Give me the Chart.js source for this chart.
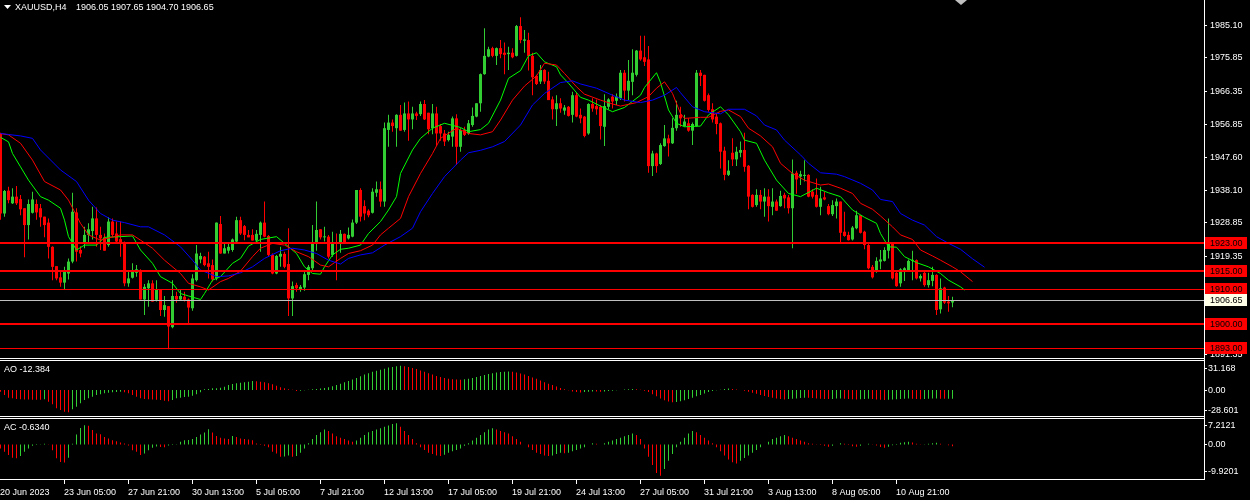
<!DOCTYPE html>
<html>
<head>
<meta charset="utf-8">
<script src="https://cdn.jsdelivr.net/npm/chart.js@4.4.0/dist/chart.umd.min.js"></script>
<style>
html, body { margin: 0; padding: 0; background: #000; overflow: hidden; }
#wrap { position: relative; width: 1250px; height: 500px; background: #000; }
canvas { position: absolute; left: 0; }
</style>
</head>
<body>
<div id="wrap">
<canvas id="main" style="top:0px;width:1250px;height:361px" width="1250" height="361"></canvas>
<canvas id="ao" style="top:361px;width:1250px;height:58px" width="1250" height="58"></canvas>
<canvas id="ac" style="top:419px;width:1250px;height:81px" width="1250" height="81"></canvas>
</div>
<script>
// ---- data ----
const symbol = "XAUUSD,H4";
const ohlcText = "1906.05 1907.65 1904.70 1906.65";

const open = [1954.2,1931.4,1937.9,1934.3,1936.2,1935.5,1932.9,1928.1,1931.6,1934.1,
1932.9,1930.5,1928.8,1921.9,1916.4,1913.2,1911.7,1914.3,1917.7,1931.7,
1921.0,1923.1,1925.3,1926.4,1930.0,1925.3,1924.6,1922.4,1929.1,1925.7,
1924.1,1922.9,1911.5,1913.1,1914.5,1915.1,1906.9,1910.1,1911.5,1906.8,
1909.6,1903.9,1905.0,1899.0,1907.9,1906.9,1907.7,1906.9,1904.4,1912.4,
1918.3,1919.1,1917.2,1916.7,1912.9,1928.4,1920.0,1920.8,1921.0,1923.4,
1929.5,1927.8,1925.3,1925.3,1923.7,1925.3,1928.8,1925.0,1919.6,1914.3,
1919.1,1919.9,1917.0,1907.2,1911.0,1909.6,1910.3,1913.9,1915.8,1922.7,
1926.9,1924.6,1924.8,1919.6,1923.1,1922.9,1925.6,1924.3,1924.8,1928.8,
1938.1,1933.5,1932.2,1931.6,1937.3,1938.3,1934.8,1955.2,1957.3,1955.7,
1959.5,1955.2,1959.9,1958.2,1959.9,1959.7,1962.6,1960.1,1955.7,1959.9,
1956.3,1954.2,1952.3,1953.3,1958.5,1950.4,1955.2,1954.2,1956.6,1959.0,
1962.8,1971.1,1976.1,1978.5,1976.3,1978.5,1977.2,1976.8,1977.2,1976.3,
1984.8,1980.6,1980.8,1976.3,1970.6,1969.0,1972.3,1969.2,1963.9,1961.1,
1962.8,1960.7,1961.8,1959.5,1965.1,1959.5,1959.0,1954.2,1962.6,1962.0,
1961.8,1956.1,1961.8,1964.7,1963.5,1964.2,1971.5,1966.4,1968.9,1970.9,
1977.8,1975.9,1975.3,1944.9,1948.5,1945.5,1950.6,1952.8,1951.4,1955.7,
1959.5,1956.3,1957.1,1955.0,1956.3,1971.5,1970.9,1965.1,1961.1,1959.0,
1957.1,1949.3,1942.4,1948.7,1946.8,1948.7,1949.5,1945.0,1936.7,1933.8,
1936.7,1934.8,1936.2,1933.3,1934.8,1933.5,1936.7,1936.0,1932.9,1943.0,
1941.9,1942.1,1942.4,1937.6,1936.7,1933.3,1936.0,1933.5,1931.2,1933.5,
1934.8,1926.2,1925.3,1924.0,1927.2,1930.9,1926.2,1922.4,1916.2,1914.8,
1917.7,1917.9,1920.8,1922.7,1914.5,1911.5,1915.3,1915.1,1917.9,1918.1,
1912.9,1914.5,1911.0,1912.2,1913.9,1904.1,1910.3,1906.3,1906.05];

const high = [1954.4,1938.1,1939.0,1938.6,1939.2,1936.7,1932.9,1935.4,1937.6,1935.4,
1934.1,1930.5,1930.0,1922.1,1916.4,1914.8,1916.2,1918.6,1937.3,1932.9,
1922.1,1927.6,1928.6,1933.3,1933.1,1927.6,1925.7,1930.3,1930.0,1929.1,
1929.1,1923.4,1915.3,1917.2,1916.7,1915.5,1911.3,1912.4,1912.4,1912.4,
1909.8,1907.9,1905.0,1912.4,1909.1,1909.6,1909.1,1907.2,1914.1,1922.4,
1920.2,1919.3,1920.5,1918.3,1928.8,1930.7,1922.9,1923.1,1924.3,1930.5,
1930.5,1928.1,1926.7,1926.9,1926.7,1929.1,1934.8,1925.3,1920.0,1919.6,
1921.9,1920.5,1927.2,1912.0,1911.7,1911.0,1914.8,1916.7,1928.1,1934.8,
1926.9,1927.6,1925.3,1926.2,1925.7,1926.7,1925.7,1927.4,1929.7,1938.1,
1938.6,1935.2,1932.6,1938.6,1940.5,1940.5,1957.3,1959.5,1958.2,1959.7,
1962.3,1963.0,1963.3,1961.8,1960.4,1963.3,1963.7,1960.1,1962.6,1961.8,
1956.9,1955.2,1954.7,1959.0,1959.7,1955.7,1956.1,1958.0,1961.6,1962.8,
1971.3,1984.2,1978.9,1978.9,1978.7,1980.8,1980.1,1978.9,1978.5,1985.1,
1987.3,1983.7,1982.9,1977.2,1970.9,1973.7,1972.5,1971.8,1964.7,1965.1,
1964.2,1962.3,1962.0,1966.1,1965.8,1961.3,1959.2,1962.8,1964.2,1963.9,
1962.3,1965.4,1964.2,1965.4,1965.6,1972.3,1972.3,1975.1,1978.2,1978.0,
1982.0,1982.0,1979.1,1949.3,1948.7,1951.4,1956.6,1953.8,1958.5,1963.5,
1961.8,1959.5,1958.5,1957.3,1972.3,1972.3,1970.9,1965.6,1962.8,1959.9,
1957.3,1950.4,1946.6,1952.8,1950.4,1951.9,1954.4,1945.2,1936.9,1938.3,
1938.1,1938.6,1938.3,1938.6,1935.4,1937.9,1937.3,1936.7,1946.8,1943.6,
1943.6,1946.6,1942.6,1938.3,1941.4,1939.0,1937.6,1934.1,1935.2,1935.7,
1934.8,1931.9,1926.2,1927.8,1932.2,1930.9,1926.5,1922.7,1916.7,1918.9,
1921.0,1921.8,1930.0,1922.7,1914.8,1915.8,1916.1,1918.3,1920.8,1918.3,
1914.1,1915.1,1914.5,1916.2,1914.1,1912.9,1910.5,1907.9,1907.65];

const low = [1929.6,1930.5,1934.3,1934.1,1933.8,1930.9,1918.9,1924.0,1931.4,1929.6,
1927.6,1924.6,1918.6,1912.4,1912.4,1910.5,1909.8,1912.6,1917.2,1917.7,
1918.9,1921.5,1923.1,1924.0,1921.9,1921.0,1920.8,1921.9,1924.6,1923.1,
1919.1,1910.7,1910.5,1912.9,1913.4,1906.9,1902.5,1904.8,1906.3,1906.3,
1902.2,1902.0,1892.7,1898.7,1906.0,1906.6,1906.3,1899.9,1903.7,1912.0,
1917.2,1916.4,1912.9,1912.0,1912.4,1919.9,1920.0,1920.0,1920.5,1923.1,
1925.3,1923.8,1924.6,1923.7,1923.1,1920.5,1924.6,1919.1,1914.1,1914.1,
1916.2,1915.8,1902.2,1902.2,1909.1,1909.1,1909.4,1912.4,1915.3,1920.8,
1924.0,1923.4,1918.6,1919.1,1912.4,1920.2,1922.9,1924.0,1924.6,1928.4,
1929.1,1929.5,1930.3,1931.4,1936.2,1933.3,1933.3,1950.4,1954.7,1950.4,
1955.0,1954.7,1952.1,1955.4,1958.0,1959.2,1958.0,1954.0,1954.0,1950.6,
1952.1,1950.6,1951.9,1950.4,1945.2,1949.0,1953.5,1953.8,1956.1,1958.8,
1960.4,1970.9,1975.9,1975.9,1973.7,1975.6,1971.1,1972.3,1975.6,1976.1,
1979.9,1977.2,1972.1,1965.1,1968.0,1968.3,1968.3,1963.7,1958.2,1956.3,
1960.1,1959.5,1959.0,1957.3,1958.8,1957.1,1953.1,1953.8,1960.4,1959.5,
1952.5,1950.6,1961.1,1961.3,1962.3,1963.7,1963.3,1963.7,1965.1,1970.4,
1974.9,1973.4,1943.0,1942.1,1943.0,1945.2,1950.4,1947.6,1951.2,1955.0,
1956.1,1956.1,1954.7,1950.9,1956.1,1967.7,1963.3,1960.4,1957.3,1954.0,
1944.2,1940.9,1942.1,1944.9,1944.9,1947.4,1943.3,1932.6,1933.1,1933.3,
1932.6,1930.5,1929.1,1930.9,1932.2,1933.3,1932.9,1931.4,1921.5,1937.0,
1939.5,1940.5,1936.0,1935.7,1933.1,1930.9,1935.2,1930.9,1930.7,1930.0,
1922.7,1924.8,1923.7,1923.7,1926.9,1925.7,1921.2,1915.5,1912.9,1914.5,
1915.5,1917.7,1918.6,1912.6,1910.5,1910.5,1912.2,1914.8,1912.4,1912.6,
1912.0,1910.5,1910.3,1910.7,1902.5,1902.9,1905.6,1903.4,1904.70];

const close = [1931.4,1937.8,1935.2,1936.2,1934.3,1932.6,1928.1,1934.1,1935.4,1931.7,
1930.3,1928.1,1921.9,1916.2,1912.9,1911.7,1914.8,1917.7,1931.9,1920.5,
1920.0,1925.3,1926.9,1930.0,1925.3,1924.3,1920.8,1929.1,1925.3,1923.4,
1922.9,1911.5,1912.9,1914.8,1915.5,1906.9,1910.5,1911.5,1906.3,1909.6,
1903.9,1905.3,1899.2,1907.9,1906.9,1907.9,1906.8,1904.6,1912.9,1920.0,
1919.3,1916.7,1916.2,1912.6,1928.8,1920.0,1921.5,1921.9,1924.0,1929.5,
1925.7,1925.3,1924.6,1923.7,1925.6,1928.8,1924.8,1919.6,1914.3,1919.3,
1919.9,1916.2,1907.2,1910.7,1910.1,1910.5,1914.1,1916.2,1923.1,1926.7,
1924.6,1924.8,1919.1,1922.9,1922.7,1925.6,1923.1,1925.3,1928.8,1938.1,
1930.5,1931.4,1930.9,1937.6,1938.3,1934.8,1955.7,1957.3,1956.3,1959.5,
1955.0,1959.9,1958.2,1959.9,1959.2,1962.6,1958.2,1955.4,1959.9,1954.2,
1954.2,1951.9,1953.8,1958.5,1950.4,1955.2,1953.8,1957.1,1959.2,1962.8,
1971.1,1976.3,1978.2,1976.3,1978.5,1976.8,1976.6,1977.2,1975.9,1984.8,
1980.8,1981.0,1976.3,1970.2,1968.3,1972.3,1969.0,1963.7,1961.1,1962.8,
1961.3,1961.6,1959.2,1965.1,1959.0,1958.5,1953.5,1962.6,1961.3,1961.1,
1956.3,1962.0,1963.9,1963.3,1964.7,1971.5,1966.4,1969.2,1971.5,1977.8,
1975.3,1974.6,1944.9,1948.5,1944.9,1950.9,1952.8,1951.4,1955.8,1959.5,
1958.5,1957.6,1955.0,1956.9,1971.5,1970.6,1963.5,1960.9,1958.2,1956.9,
1949.0,1942.4,1943.6,1946.8,1949.0,1949.5,1944.7,1936.2,1933.3,1936.7,
1934.8,1936.2,1933.5,1934.8,1932.2,1936.4,1935.7,1932.9,1942.8,1941.1,
1942.6,1942.4,1936.2,1936.2,1933.3,1935.7,1935.4,1931.2,1933.8,1934.8,
1925.9,1925.0,1923.8,1927.4,1930.9,1925.9,1922.4,1915.8,1913.2,1917.9,
1918.3,1921.0,1922.7,1912.9,1910.7,1915.5,1915.8,1917.9,1918.1,1912.9,
1913.6,1911.0,1912.4,1913.9,1903.9,1910.1,1906.0,1905.8,1906.65];

// Alligator lines as [bar index, price]
const jaw = [[0,1954.2],[2,1953.9],[5,1953.5],[8,1952.8],[10,1949.5],[15,1943.8],[19,1940.5],[22,1935.2],[25,1931.4],[28,1929.5],
[31,1928.8],[35,1927.6],[37,1927.6],[41,1925.3],[45,1921.9],[48,1918.1],[50,1915.3],[54,1913.4],[57,1913.6],[60,1914.5],
[63,1916.2],[66,1918.6],[70,1920.8],[73,1921.5],[76,1921.0],[79,1920.0],[82,1918.1],[85,1917.0],[87,1918.6],[90,1919.6],
[93,1920.2],[96,1922.4],[100,1924.8],[103,1927.2],[105,1931.9],[108,1937.1],[111,1941.9],[115,1946.6],[117,1948.7],[120,1949.4],
[123,1950.4],[126,1951.9],[130,1956.6],[133,1962.3],[136,1965.6],[140,1968.7],[143,1969.2],[145,1968.3],[149,1967.1],[153,1965.1],
[156,1963.7],[160,1963.0],[163,1963.7],[166,1965.1],[169,1967.3],[170,1965.8],[173,1961.8],[176,1960.4],[180,1959.8],[182,1961.1],
[186,1961.1],[189,1959.2],[191,1956.6],[194,1955.2],[196,1952.3],[200,1948.1],[202,1945.7],[205,1943.0],[209,1942.6],[211,1941.9],
[215,1940.0],[218,1938.1],[220,1935.4],[223,1934.8],[225,1931.4],[228,1929.5],[231,1928.1],[234,1924.8],[237,1922.9],[240,1921.2],
[243,1918.5],[246,1916.1]];

const teeth = [[0,1954.2],[2,1953.8],[5,1951.4],[8,1946.6],[11,1940.5],[15,1938.1],[17,1935.2],[20,1928.6],[22,1925.3],[25,1923.8],
[30,1925.3],[33,1925.3],[35,1923.8],[38,1921.5],[41,1918.1],[45,1914.3],[47,1911.5],[50,1910.5],[52,1909.6],[55,1912.0],
[57,1912.9],[60,1915.0],[63,1919.1],[65,1921.5],[68,1922.9],[71,1922.4],[74,1920.5],[77,1919.1],[80,1916.7],[82,1916.2],
[85,1918.6],[87,1920.0],[90,1920.8],[93,1922.4],[95,1925.3],[97,1927.2],[100,1930.0],[102,1936.2],[105,1942.8],[108,1948.5],
[110,1952.8],[114,1955.7],[117,1954.2],[120,1953.8],[123,1954.7],[125,1958.0],[128,1963.7],[131,1967.7],[134,1970.6],[136,1974.2],
[139,1973.7],[141,1971.3],[144,1967.5],[146,1965.4],[150,1963.7],[153,1962.6],[155,1962.0],[159,1963.0],[162,1964.7],[164,1967.1],
[166,1968.9],[168,1965.6],[170,1959.9],[171,1958.5],[175,1958.8],[177,1958.8],[180,1960.5],[182,1960.9],[185,1959.0],[187,1955.7],
[190,1953.5],[193,1950.4],[195,1945.7],[198,1942.8],[201,1940.9],[205,1939.5],[207,1939.8],[210,1938.6],[213,1937.1],[215,1934.3],
[218,1932.6],[220,1930.7],[223,1927.6],[225,1925.3],[228,1924.0],[230,1921.0],[233,1919.3],[235,1918.1],[238,1916.2],[240,1914.8],
[243,1912.0]];

const lips = [[0,1953.1],[2,1951.8],[3,1948.5],[5,1944.7],[7,1940.9],[10,1936.2],[12,1935.2],[15,1932.9],[16,1929.5],[17,1924.8],
[19,1921.0],[21,1922.4],[24,1922.4],[26,1924.6],[30,1924.8],[33,1925.0],[35,1921.0],[38,1917.2],[40,1913.4],[43,1911.5],
[45,1908.6],[47,1907.9],[50,1906.9],[51,1908.6],[53,1912.4],[55,1913.4],[58,1917.2],[60,1918.6],[62,1922.1],[65,1924.0],
[69,1924.8],[71,1922.9],[74,1920.0],[76,1916.2],[78,1914.3],[80,1914.1],[81,1916.2],[83,1919.6],[85,1921.2],[87,1921.5],
[90,1922.4],[92,1925.7],[95,1929.1],[97,1932.4],[99,1936.2],[100,1942.8],[103,1949.5],[105,1952.8],[108,1955.7],[111,1957.1],
[115,1955.9],[117,1954.7],[120,1955.3],[122,1957.1],[125,1963.7],[127,1969.9],[130,1972.1],[132,1976.3],[134,1977.2],[136,1974.6],
[139,1973.2],[140,1970.9],[142,1968.5],[145,1964.5],[147,1963.7],[150,1962.0],[153,1960.4],[156,1961.6],[160,1965.1],[161,1967.3],
[164,1971.5],[165,1968.7],[167,1960.9],[169,1957.1],[171,1956.1],[175,1956.3],[177,1959.5],[180,1961.8],[182,1959.5],[185,1954.7],
[186,1952.3],[189,1951.4],[191,1946.6],[194,1940.9],[197,1937.1],[200,1936.2],[204,1938.6],[207,1937.3],[210,1936.2],[213,1932.4],
[216,1930.3],[219,1928.6],[220,1925.7],[222,1921.9],[224,1921.8],[226,1919.1],[229,1917.4],[232,1916.2],[235,1914.3],[237,1912.4],
[240,1910.5],[241,1909.6]];

const ao = [-2.4,-7.1,-10.9,-11.9,-12.9,-13.3,-13.4,-13.6,-13.8,-14.0,
-14.1,-13.3,-16.7,-20.5,-26.2,-28.6,-30.9,-31.9,-27.6,-23.8,
-19.0,-14.3,-11.9,-9.5,-7.1,-6.2,-4.8,-3.8,-3.3,-2.9,
-2.4,-3.3,-4.8,-7.1,-9.5,-11.9,-12.9,-13.3,-13.6,-13.8,
-14.3,-15.2,-15.9,-14.3,-11.9,-10.9,-10.0,-9.5,-8.1,-6.2,
-3.3,1.0,1.4,2.4,2.6,3.3,4.8,7.1,8.6,9.5,
10.5,10.9,11.9,12.9,12.6,11.9,10.9,9.5,8.1,6.2,
3.8,2.4,1.0,0.5,-1.4,
-1.0,-0.5,0.3,1.0,1.5,2.2,3.0,4.0,5.5,7.0,9.0,
11,13,15,17,19.5,22,24,26,27.5,29,30.5,32,33,34,34.5,
34,33,31.5,30,28,26,24,22,20,18.5,17,16,
15.5,15,14.7,15.2,16,
17,18.5,20,21.5,23,24,25,25.8,
26.2,26.5,26,25,23.5,22,
20,18,16,13.5,11,9,7,5,3,1,-0.5,-2,-3,-3.5,
-3,-2.5,-2,-2.3,-2.6,-2.2,-1.5,-1,-0.5,0,0.6,1.2,1.5,1.2,0.5,
-1,-3,-6,-9,-12,-14.5,-16.5,-17.5,-17,-16,-14.5,-13,-11,-9,-7,
-5,-3,-1.5,-0.5,0.5,1.5,2,1.5,0.8,0,-1,-2.5,-4,-5.5,-7,
-8.5,-10,-11,-12,-13,-13.5,-13,-12.5,-12,-11.5,-11,-11.2,-11.6,-12,-12.5,
-12.8,-13,-12.7,-12.3,-12,-12.4,-12.9,-13.3,-13.5,-13.2,-12.8,-12.5,-12.9,-13.4,-14,-14.3,-14,
-13.6,-13.2,-12.8,-12.5,-12.2,-12.4,-12.8,-13.1,-12.9,-12.6,-12.3,-12.1,-12.4,-12.6,-12.5,-12.384];

const ac = [-1.5,-2.7,-3.9,-4.9,-5.1,-4.2,-2.7,-1.5,-0.5,-0.2,
0.1,0.25,-0.1,-2.1,-5.1,-6.4,-6.6,-4.9,0.3,3.7,
6.1,7.1,6.9,5.3,4.0,3.8,2.8,2.2,1.6,1.2,
0.7,0.4,-0.4,-2.1,-2.7,-3.9,-3.3,-2.1,-1.2,-0.7,
-0.9,-1.0,-0.4,-0.2,0.1,1.0,1.6,1.7,2.0,2.8,
3.7,4.4,5.6,4.4,3.1,2.5,2.2,2.0,3.1,2.8,
2.2,2.0,1.8,1.6,0.4,-0.2,-0.5,-1.0,-2.7,-3.3,
-4.5,-4.4,-4.0,-4.5,-4.2,
-3.0,-1.5,0.5,2.0,3.5,4.5,5.5,5.0,4.0,3.0,2.5,
2.0,1.5,1.0,1.5,2.5,3.5,4.5,5.0,5.5,6.0,6.5,7.0,7.5,7.8,6.5,
5.0,3.5,2.0,0.5,-1.0,-2.0,-3.0,-3.5,-4.0,-4.2,-3.8,-3.0,
-2.5,-2.0,-1.5,-0.5,0.5,
1.5,2.5,3.5,4.5,5.5,6.0,5.5,5.0,
4.5,4.0,3.0,2.0,1.0,0.0,
-1.0,-2.0,-3.0,-3.5,-4.0,-4.2,-4.0,-3.5,-3.0,-3.2,-3.0,-2.5,-2.0,-1.5,
-1.0,0.0,0.5,0.3,0.0,0.5,1.0,1.5,2.0,2.5,3.0,3.5,4.0,3.5,2.0,
-1.5,-4.5,-7.5,-10.5,-11.5,-9.0,-6.0,-3.5,-1.0,1.0,2.5,4.0,5.0,4.5,3.5,
2.5,1.5,0.5,-1.0,-2.5,-4.0,-5.5,-6.5,-7.0,-6.0,-5.0,-4.0,-3.0,-2.0,-1.0,
0.0,1.0,2.0,2.5,3.0,3.5,3.0,2.5,2.0,1.5,1.0,0.5,0.3,0.1,-0.2,
-0.5,-0.8,-0.5,0.0,0.5,0.3,-0.2,-0.6,-0.8,-0.5,0.0,0.3,0.1,-0.4,-0.9,-1.2,-0.8,
-0.3,0.2,0.6,0.8,1.0,0.7,0.3,-0.1,0.1,0.3,0.5,0.6,0.3,0.0,-0.3,-0.634];

const priceTicks = [1985.10, 1975.85, 1966.35, 1956.85, 1947.60, 1938.10, 1928.85, 1919.35, 1891.35];
const levels = [1923.00, 1915.00, 1910.00, 1900.00, 1893.00];
const bid = 1906.65;
const aoTicks = [31.168, 0, -28.601];
const acTicks = [7.2121, 0, -9.9201];
const aoLast = "AO -12.384";
const acLast = "AC -0.6340";
const timeIdx = [0, 16, 32, 48, 64, 80, 96, 112, 128, 144, 160, 176, 192, 208, 224];
const timeText = ["20 Jun 2023", "23 Jun 05:00", "27 Jun 21:00", "30 Jun 13:00", "5 Jul 05:00",
  "7 Jul 21:00", "12 Jul 13:00", "17 Jul 05:00", "19 Jul 21:00", "24 Jul 13:00",
  "27 Jul 05:00", "31 Jul 21:00", "3 Aug 13:00", "8 Aug 05:00", "10 Aug 21:00"];

// ---- look ----
const GREEN = "#32cd32";
const RED = "#ff0000";
const FG = "#ffffff";
const FONT = "9px 'Liberation Sans', Arial, sans-serif";
const levelThick = [2, 2, 1, 2, 1];
const AXIS_X = 1204;
const X_MIN = -0.125, X_MAX = 300.875;

const candleColor = close.map((c, i) => c >= open[i] ? GREEN : RED);
const histColor = arr => arr.map((v, i) => (i > 0 && v >= arr[i - 1]) ? GREEN : RED);

const fmtTick = v => v === 0 ? "0.00" : String(v);

function drawRightAxis(ctx, h) {
    ctx.fillStyle = FG;
    ctx.fillRect(AXIS_X, 0, 1, h);
}

function drawSeparator(ctx, y) {
    ctx.fillStyle = FG;
    ctx.fillRect(0, y, AXIS_X + 1, 1);
    ctx.fillRect(0, y + 2, AXIS_X + 1, 1);
}

function drawPaneTicks(ctx, scale, values, x0) {
    ctx.font = FONT;
    ctx.textBaseline = "middle";
    ctx.textAlign = "left";
    values.forEach(v => {
        const py = Math.round(scale.getPixelForValue(v));
        ctx.fillStyle = FG;
        ctx.fillRect(AXIS_X, py, 3, 1);
        ctx.fillText(fmtTick(v), x0, py + 0.5);
    });
}

const mainDecor = {
    id: "mainDecor",
    afterDatasetsDraw(chart) {
        const { ctx, chartArea: a, scales: { y } } = chart;
        ctx.save();
        levels.forEach((v, i) => {
            const py = Math.round(y.getPixelForValue(v));
            ctx.fillStyle = RED;
            ctx.fillRect(a.left, py - (levelThick[i] > 1 ? 1 : 0), a.right - a.left, levelThick[i]);
        });
        const pb = Math.round(y.getPixelForValue(bid));
        ctx.fillStyle = "#c0c0c0";
        ctx.fillRect(a.left, pb, a.right - a.left, 1);
        ctx.restore();
    },
    afterDraw(chart) {
        const { ctx, chartArea: a, scales: { y } } = chart;
        ctx.save();
        // header
        ctx.fillStyle = FG;
        ctx.beginPath();
        ctx.moveTo(4, 5); ctx.lineTo(11, 5); ctx.lineTo(7.5, 9); ctx.closePath();
        ctx.fill();
        ctx.font = FONT;
        ctx.textBaseline = "middle";
        ctx.textAlign = "left";
        ctx.fillText(symbol, 15, 7.5);
        ctx.fillText(ohlcText, 76, 7.5);
        // shift marker
        ctx.fillStyle = "#c0c0c0";
        ctx.beginPath();
        ctx.moveTo(955, 0); ctx.lineTo(967, 0); ctx.lineTo(961, 5); ctx.closePath();
        ctx.fill();
        // price axis
        drawRightAxis(ctx, chart.height);
        ctx.save();
        ctx.beginPath();
        ctx.rect(AXIS_X + 1, 0, 60, a.bottom);
        ctx.clip();
        ctx.font = FONT;
        priceTicks.forEach(v => {
            const py = Math.round(y.getPixelForValue(v));
            ctx.fillStyle = FG;
            ctx.fillRect(AXIS_X, py, 3, 1);
            ctx.fillText(v.toFixed(2), 1210, py + 0.5);
        });
        levels.forEach(v => {
            const py = Math.round(y.getPixelForValue(v));
            ctx.fillStyle = RED;
            ctx.fillRect(AXIS_X + 1, py - 6, 42, 12);
            ctx.fillStyle = "#000000";
            ctx.fillText(v.toFixed(2), 1210, py + 0.5);
        });
        const pb = Math.round(y.getPixelForValue(bid));
        ctx.fillStyle = "#ffffe8";
        ctx.fillRect(AXIS_X + 1, pb - 6, 42, 12);
        ctx.fillStyle = "#000000";
        ctx.fillText(bid.toFixed(2), 1210, pb + 0.5);
        ctx.restore();
        drawSeparator(ctx, 358);
        ctx.restore();
    }
};

function paneDecor(id, title, ticks, sepY, withTime) {
    return {
        id: id,
        afterDraw(chart) {
            const { ctx, chartArea: a, scales: { x, y } } = chart;
            ctx.save();
            ctx.font = FONT;
            ctx.fillStyle = FG;
            ctx.textBaseline = "middle";
            ctx.textAlign = "left";
            ctx.fillText(title, 4, 9);
            drawRightAxis(ctx, withTime ? a.bottom + 1 : chart.height);
            drawPaneTicks(ctx, y, ticks, 1208);
            if (sepY !== null) drawSeparator(ctx, sepY);
            if (withTime) {
                ctx.fillStyle = FG;
                ctx.fillRect(0, a.bottom, AXIS_X + 1, 1);
                ctx.font = FONT;
                timeIdx.forEach((t, i) => {
                    const px = Math.floor(x.getPixelForValue(t));
                    if (i > 0) ctx.fillRect(px, a.bottom + 1, 1, 4);
                    ctx.fillText(timeText[i], i === 0 ? 0 : px, a.bottom + 13.5);
                });
            }
            ctx.restore();
        }
    };
}

function baseOptions(ymin, ymax, padBottom) {
    return {
        responsive: false,
        animation: false,
        devicePixelRatio: 1,
        events: [],
        layout: { padding: { left: 0, right: 1250 - AXIS_X, top: 0, bottom: padBottom } },
        plugins: { legend: { display: false }, tooltip: { enabled: false } },
        datasets: { bar: { grouped: false, borderWidth: 0, inflateAmount: 0 } },
        scales: {
            x: { type: "linear", display: false, min: X_MIN, max: X_MAX, offset: false },
            y: { type: "linear", display: false, min: ymin, max: ymax }
        }
    };
}

const line = (pts, color) => ({
    type: "line",
    data: pts.map(p => ({ x: p[0], y: p[1] })),
    borderColor: color,
    borderWidth: 1,
    pointRadius: 0,
    tension: 0,
    order: 0
});

new Chart(document.getElementById("main"), {
    type: "bar",
    data: {
        datasets: [
            line(jaw, "#0000ff"),
            line(teeth, "#ff0000"),
            line(lips, "#00ff00"),
            {
                data: close.map((c, i) => ({ x: i, y: [low[i], high[i]] })),
                backgroundColor: candleColor,
                barThickness: 1,
                order: 2
            },
            {
                data: close.map((c, i) => ({ x: i, y: [open[i], c] })),
                backgroundColor: candleColor,
                barThickness: 3,
                minBarLength: 1,
                order: 1
            }
        ]
    },
    options: baseOptions(1890.23, 1992.22, 3),
    plugins: [mainDecor]
});

new Chart(document.getElementById("ao"), {
    type: "bar",
    data: {
        datasets: [{
            data: ao.map((v, i) => ({ x: i, y: v })),
            backgroundColor: histColor(ao),
            barThickness: 1
        }]
    },
    options: baseOptions(-37.14, 41.43, 3),
    plugins: [paneDecor("aoDecor", aoLast, aoTicks, 55, false)]
});

new Chart(document.getElementById("ac"), {
    type: "bar",
    data: {
        datasets: [{
            data: ac.map((v, i) => ({ x: i, y: v })),
            backgroundColor: histColor(ac),
            barThickness: 1
        }]
    },
    options: baseOptions(-12.684, 9.375, 21),
    plugins: [paneDecor("acDecor", acLast, acTicks, null, true)]
});
</script>
</body>
</html>
